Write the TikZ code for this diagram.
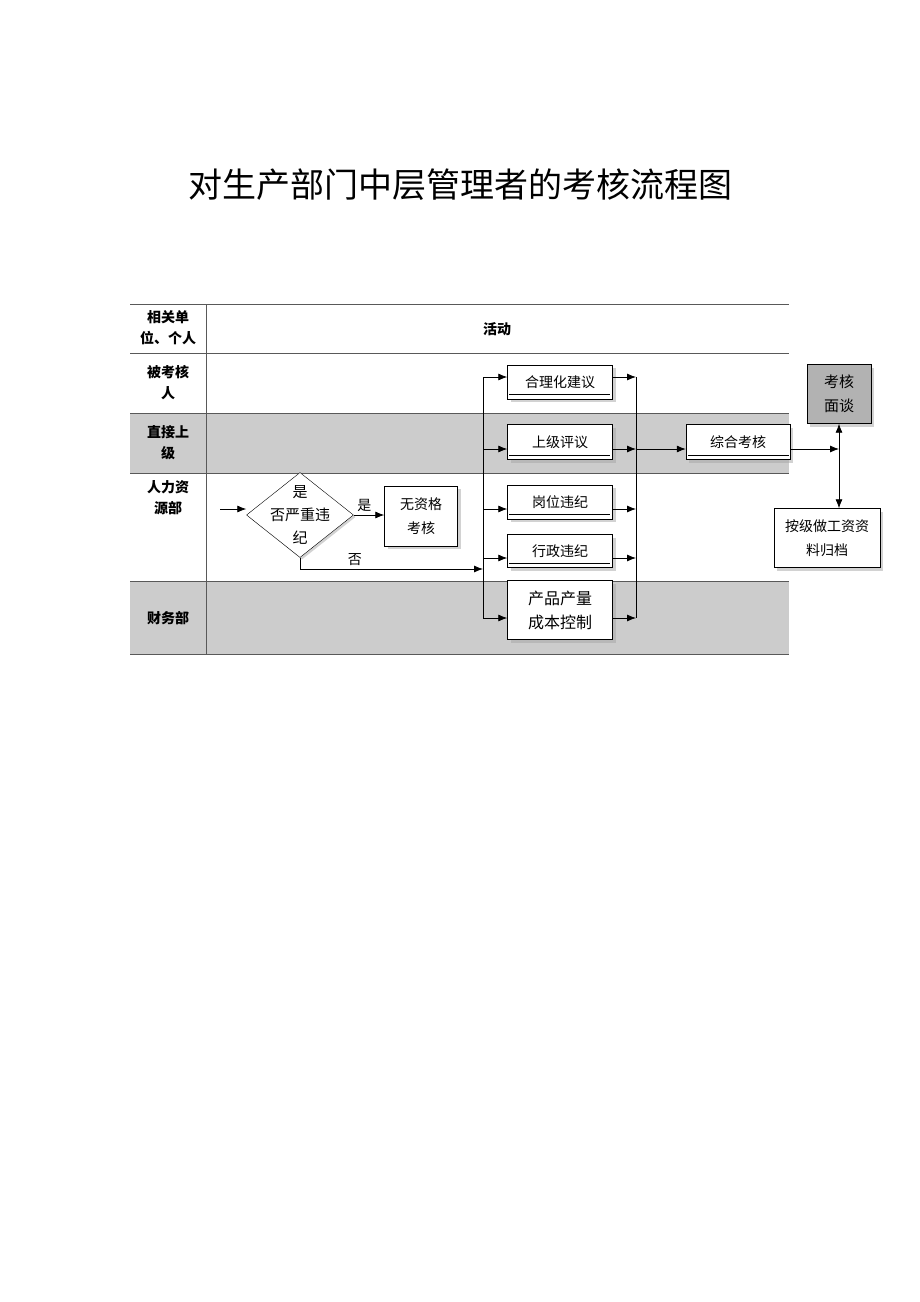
\documentclass[tikz,border=0pt]{standalone}
\usepackage{fontspec}
\setmainfont{Noto Sans CJK SC}
\usetikzlibrary{shapes.geometric,shadows,arrows.meta}
\tikzset{
  box/.style={draw, fill=white, align=center, inner sep=1pt, font=\fontsize{14}{17}\selectfont},
  shadowbox/.style={box, drop shadow={shadow xshift=3pt, shadow yshift=-3pt, fill=gray!70}},
  lbl/.style={align=center, font=\bfseries\fontsize{14}{21}\selectfont},
  arr/.style={-{Latex[length=9pt,width=7pt]}, thick}
}
\begin{document}
\begin{tikzpicture}[x=1pt,y=-1pt]
            \useasboundingbox (0,0) rectangle (920,1302);
            \node (title) at (460,185) {\fontsize{34}{38}\selectfont 对生产部门中层管理者的考核流程图};

            % lanes
            \fill[gray!40] (130,413) rectangle (789,473);
            \fill[gray!40] (130,581) rectangle (789,654);
            \foreach \y in {304,353,413,473,581,654}
                \draw[gray!70!black] (130,\y) -- (789,\y);
            \draw[gray!70!black] (206,304) -- (206,654);
            \node[lbl] (hdA) at (168,328) {相关单\\位、个人};
            \node[lbl] (hdB) at (497,329) {活动};
            \node[lbl] (laneA) at (168,383) {被考核\\人};
            \node[lbl] (laneB) at (168,443) {直接上\\级};
            \node[lbl] (laneC) at (168,498) {人力资\\源部};
            \node[lbl] (laneD) at (168,618) {财务部};

            % boxes
            \node[shadowbox, minimum width=105pt, minimum height=34pt] (jy) at (560,382) {合理化建议};
            \node[shadowbox, minimum width=105pt, minimum height=35pt] (py) at (560,442) {上级评议};
            \node[shadowbox, minimum width=105pt, minimum height=34pt] (gw) at (560,502) {岗位违纪};
            \node[shadowbox, minimum width=105pt, minimum height=33pt] (xz) at (560,551) {行政违纪};
            \node[shadowbox, minimum width=105pt, minimum height=59pt, font=\fontsize{16}{24}\selectfont] (cp) at (560,610) {产品产量\\成本控制};
            \node[shadowbox, minimum width=104pt, minimum height=35pt] (zh) at (738,442) {综合考核};
            \node[box, fill=gray!60, minimum width=64pt, minimum height=59pt, font=\fontsize{15}{24}\selectfont,
                  drop shadow={shadow xshift=3pt, shadow yshift=-3pt, fill=gray!70}] (ms) at (839,394) {考核\\面谈};
            \node[shadowbox, minimum width=106pt, minimum height=59pt, font=\fontsize{14}{24}\selectfont] (gd) at (827,538) {按级做工资资\\料归档};
            \node[shadowbox, minimum width=73pt, minimum height=60pt, font=\fontsize{14}{24}\selectfont] (wz) at (421,516) {无资格\\考核};
            \node[draw, fill=white, diamond, aspect=1.25, minimum width=107pt, minimum height=85pt, inner sep=-14pt,
                  align=center, font=\fontsize{15}{23}\selectfont,
                  drop shadow={shadow xshift=2pt, shadow yshift=-2pt, fill=gray!70}] (dm) at (300,515) {是\\否严重违\\纪};
            \foreach \b in {jy,py,gw,xz,zh}
                \draw (\b.south west) ++(2,-5) -- ++(101,0);

            % buses
            \coordinate (bl1) at (483,377);
            \coordinate (bl2) at (483,618);
            \coordinate (br1) at (636,377);
            \coordinate (br2) at (636,618);
            \draw (bl1) -- (bl2);
            \draw (br1) -- (br2);
            \foreach \b/\y in {jy/377,py/449,gw/509,xz/558,cp/618} {
                \draw[arr] (483,\y) -- (\b.west |- 0,\y);
                \draw[arr] (\b.east |- 0,\y) -- (636,\y);
            }
            \draw[arr] (636,449) -- (zh.west |- 0,449);
            \coordinate (jn) at (839,449);
            \draw[arr] (zh.east |- 0,449) -- (jn);
            \draw[{Latex[length=9pt,width=7pt]}-{Latex[length=9pt,width=7pt]}, thick] (ms.south) -- (gd.north -| ms.south);

            % decision
            \coordinate (in) at (220,509);
            \draw[arr] (in) -- (dm.west |- in);
            \draw[arr] (dm.east) -- (wz.west |- dm.east) node[pos=0.35, above, font=\fontsize{14}{14}\selectfont] {是};
            \coordinate (no) at (483,569);
            \draw[arr] (dm.south) -- (dm.south |- no) -- (no) node[pos=0.3, above, font=\fontsize{14}{14}\selectfont] {否};
\end{tikzpicture}
\end{document}
